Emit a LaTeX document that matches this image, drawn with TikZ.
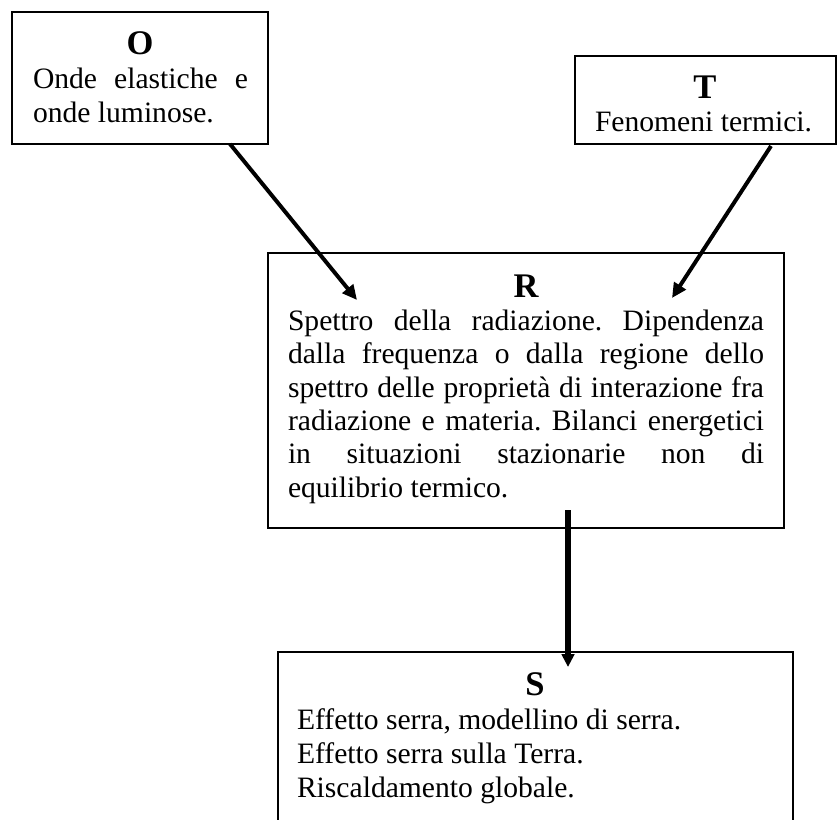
\documentclass[tikz,border=0pt]{standalone}
\usepackage{fontspec}
\setmainfont{Liberation Serif}
\usetikzlibrary{arrows.meta,fit}
\newlength\pxu
\setlength\pxu{0.4054pt}
\frenchspacing
\begin{document}
\begin{tikzpicture}[x=0.4054pt,y=-0.4054pt,
  box/.style={draw=black, line width=0.75pt, inner sep=0pt},
  txt/.style={inner sep=0pt, outer sep=0pt, font=\fontsize{12}{14}\selectfont\frenchspacing, anchor=base west},
  ttl/.style={inner sep=0pt, outer sep=0pt, font=\fontsize{14}{16}\selectfont\bfseries, anchor=base},
  arr/.style={line width=1.6pt, -{Triangle[length=6pt,width=5.5pt]}},
  varr/.style={line width=2.2pt, -{Triangle[length=5.2pt,width=5pt]}}]
\useasboundingbox (0,0) rectangle (838,820);
\clip (0,0) rectangle (838,820);
\fill[white] (0,0) rectangle (838,820);

% boxes
\node[box, fit={(12,12)(268,144)}] (O) {};
\node[box, fit={(575,56)(836,144)}] (T) {};
\node[box, fit={(268,253)(784,528)}] (R) {};
\node[box, fit={(278,652)(793,850)}] (S) {};

% O
\node[ttl] (Ot) at (140,55) {O};
\node[txt] (O1) at (33,89) {\makebox[215\pxu][s]{Onde elastiche e}};
\node[txt] (O2) at (33,123) {onde luminose.};

% T
\node[ttl] (Tt) at (705,99) {T};
\node[txt] (T1) at (595,132) {Fenomeni termici.};

% R
\node[ttl] (Rt) at (526,297) {R};
\node[txt] (R1) at (288,330) {\makebox[476\pxu][s]{Spettro della radiazione. Dipendenza}};
\node[txt] (R2) at (288,363) {\makebox[476\pxu][s]{dalla frequenza o dalla regione dello}};
\node[txt] (R3) at (288,397) {\makebox[476\pxu][s]{spettro delle proprietà di interazione fra}};
\node[txt] (R4) at (288,430) {\makebox[476\pxu][s]{radiazione e materia. Bilanci energetici}};
\node[txt] (R5) at (288,463) {\makebox[476\pxu][s]{in situazioni stazionarie non di}};
\node[txt] (R6) at (288,497) {equilibrio termico.};

% S
\node[ttl] (St) at (535,695) {S};
\node[txt] (S1) at (297,729) {Effetto serra, modellino di serra.};
\node[txt] (S2) at (297,763) {Effetto serra sulla Terra.};
\node[txt] (S3) at (297,797) {Riscaldamento globale.};

% connectors
\coordinate (oa) at (230,144);
\coordinate (ra) at (357,300);
\coordinate (ta) at (771,146);
\coordinate (rb) at (672,298);
\coordinate (rc) at (568,510);
\coordinate (sa) at (568,667);
\draw[arr] (oa) -- (ra);
\draw[arr] (ta) -- (rb);
\draw[varr] (rc) -- (sa);
\end{tikzpicture}
\end{document}
